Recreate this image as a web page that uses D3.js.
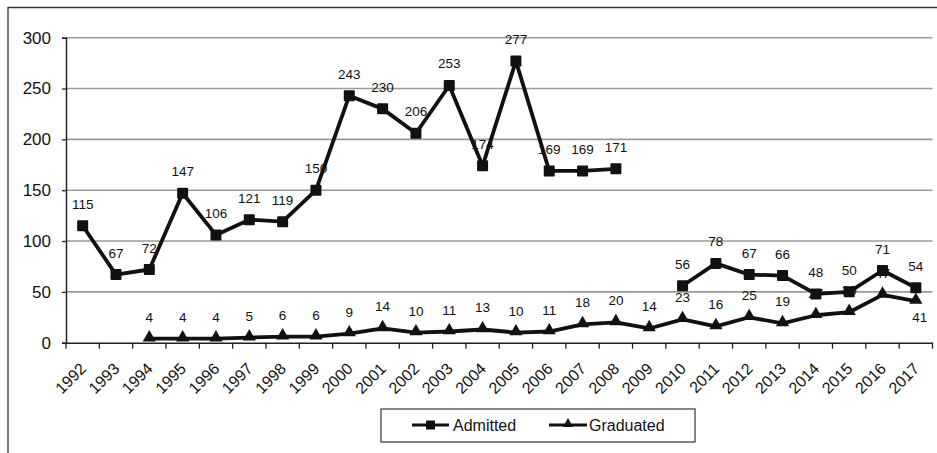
<!DOCTYPE html>
<html>
<head>
<meta charset="utf-8">
<script src="https://cdn.jsdelivr.net/npm/d3@7"></script>
<style>
  html, body { margin: 0; padding: 0; background: #fff; }
  svg { display: block; font-family: "Liberation Sans", Arial, sans-serif; }
</style>
</head>
<body>
<svg id="chart" width="937" height="453"></svg>
<script>
const years = ["1992","1993","1994","1995","1996","1997","1998","1999","2000","2001","2002","2003","2004","2005","2006","2007","2008","2009","2010","2011","2012","2013","2014","2015","2016","2017"];
const admitted = [115,67,72,147,106,121,119,150,243,230,206,253,174,277,169,169,171,null,56,78,67,66,48,50,71,54];
const graduated = [null,null,4,4,4,5,6,6,9,14,10,11,13,10,11,18,20,14,23,16,25,19,27,30,47,41];
const yTicks = [0,50,100,150,200,250,300];
const seriesNames = ["Admitted","Graduated"];

(function () {
const svg = d3.select("#chart");
const pL = 66, pR = 932.5, pT = 37.7, pB = 342.7;

// outer frame (top and left edges visible)
svg.append("path").attr("d", `M8,${453}V7.5H937`).attr("fill","none").attr("stroke","#333").attr("stroke-width",1.3);

const x = d3.scaleBand().domain(years).range([pL, pR]);
const y = d3.scaleLinear().domain([0,300]).range([pB, pT]);

// gridlines
svg.append("g").selectAll("line").data(yTicks.filter(d => d > 0)).join("line")
  .attr("x1", pL).attr("x2", pR)
  .attr("y1", d => y(d)).attr("y2", d => y(d))
  .attr("stroke", "#9a9a9a").attr("stroke-width", 1.6);

// y axis
const yAxis = svg.append("g").attr("transform", `translate(${pL},0)`)
  .call(d3.axisLeft(y).tickValues(yTicks).tickSize(4).tickPadding(11));
yAxis.select(".domain").attr("stroke", "#222").attr("stroke-width", 1.5);
yAxis.selectAll(".tick line").attr("stroke", "#222").attr("stroke-width", 1.3);
yAxis.selectAll(".tick text").attr("font-size", 17).attr("fill", "#111")
  .attr("font-family", "Liberation Sans, Arial, sans-serif");

// x axis
const xAxis = svg.append("g").attr("transform", `translate(0,${pB})`)
  .call(d3.axisBottom(x).tickSize(0).tickSizeOuter(0));
xAxis.select(".domain").attr("stroke", "#222").attr("stroke-width", 1.5);
xAxis.selectAll(".tick line").remove();
xAxis.selectAll(".tick text")
  .attr("font-size", 16).attr("fill", "#111")
  .attr("font-family", "Liberation Sans, Arial, sans-serif")
  .attr("text-anchor", "end")
  .attr("transform", "translate(0.5,23) rotate(-45)")
  .attr("dy", "0.35em").attr("y", 0);
// tick marks between categories
svg.append("g").selectAll("line").data(years.concat(["end"])).join("line")
  .attr("x1", (d,i) => pL + i * x.step()).attr("x2", (d,i) => pL + i * x.step())
  .attr("y1", pB).attr("y2", pB + 6)
  .attr("stroke", "#222").attr("stroke-width", 1.3);

const cx = d => x(d) + x.bandwidth() / 2;

// data labels (drawn beneath lines)
const labG = svg.append("g").attr("font-size", 13.5).attr("fill", "#111").attr("text-anchor", "middle");
years.forEach((yr, i) => {
  if (admitted[i] != null)
    labG.append("text").attr("x", cx(yr)).attr("y", y(admitted[i]) - 17).text(admitted[i]);
  if (graduated[i] != null) {
    const below = yr === "2017";
    labG.append("text").attr("x", cx(yr) + (below ? 4 : 0))
      .attr("y", below ? y(graduated[i]) + 21 : y(graduated[i]) - 17).text(graduated[i]);
  }
});

const data = years.map((yr, i) => ({yr, a: admitted[i], g: graduated[i]}));

const lineA = d3.line().defined(d => d.a != null).x(d => cx(d.yr)).y(d => y(d.a));
const lineG = d3.line().defined(d => d.g != null).x(d => cx(d.yr)).y(d => y(d.g));

svg.append("path").datum(data).attr("d", lineA).attr("fill","none").attr("stroke","#111").attr("stroke-width",3.8).attr("stroke-linejoin","round");
svg.append("path").datum(data).attr("d", lineG).attr("fill","none").attr("stroke","#111").attr("stroke-width",3.8).attr("stroke-linejoin","round");

const sq = 11;
svg.append("g").selectAll("rect").data(data.filter(d => d.a != null)).join("rect")
  .attr("x", d => cx(d.yr) - sq/2).attr("y", d => y(d.a) - sq/2)
  .attr("width", sq).attr("height", sq).attr("rx", 1).attr("fill", "#111");

const tri = d3.symbol().type(d3.symbolTriangle).size(75);
svg.append("g").selectAll("path").data(data.filter(d => d.g != null)).join("path")
  .attr("transform", d => `translate(${cx(d.yr)},${y(d.g) - 1})`)
  .attr("d", tri).attr("fill", "#111");

// legend
const lg = svg.append("g");
lg.append("rect").attr("x", 381).attr("y", 409).attr("width", 314).attr("height", 33)
  .attr("fill", "#fff").attr("stroke", "#333").attr("stroke-width", 1.2);
const legendItems = [
  {name: seriesNames[0], x1: 412, x2: 449, tx: 453, marker: "sq"},
  {name: seriesNames[1], x1: 549, x2: 587, tx: 589, marker: "tri"}
];
legendItems.forEach(it => {
  const yy = 425;
  lg.append("line").attr("x1", it.x1).attr("x2", it.x2).attr("y1", yy).attr("y2", yy)
    .attr("stroke", "#111").attr("stroke-width", 3.2);
  const mx = (it.x1 + it.x2) / 2;
  if (it.marker === "sq")
    lg.append("rect").attr("x", mx - 4.5).attr("y", yy - 4.5).attr("width", 9).attr("height", 9).attr("fill", "#111");
  else
    lg.append("path").attr("transform", `translate(${mx},${yy - 1})`).attr("d", d3.symbol().type(d3.symbolTriangle).size(45)).attr("fill", "#111");
  lg.append("text").attr("x", it.tx).attr("y", yy).attr("dy", "0.36em")
    .attr("font-size", 16).attr("fill", "#111").text(it.name);
});
})();
</script>
</body>
</html>
